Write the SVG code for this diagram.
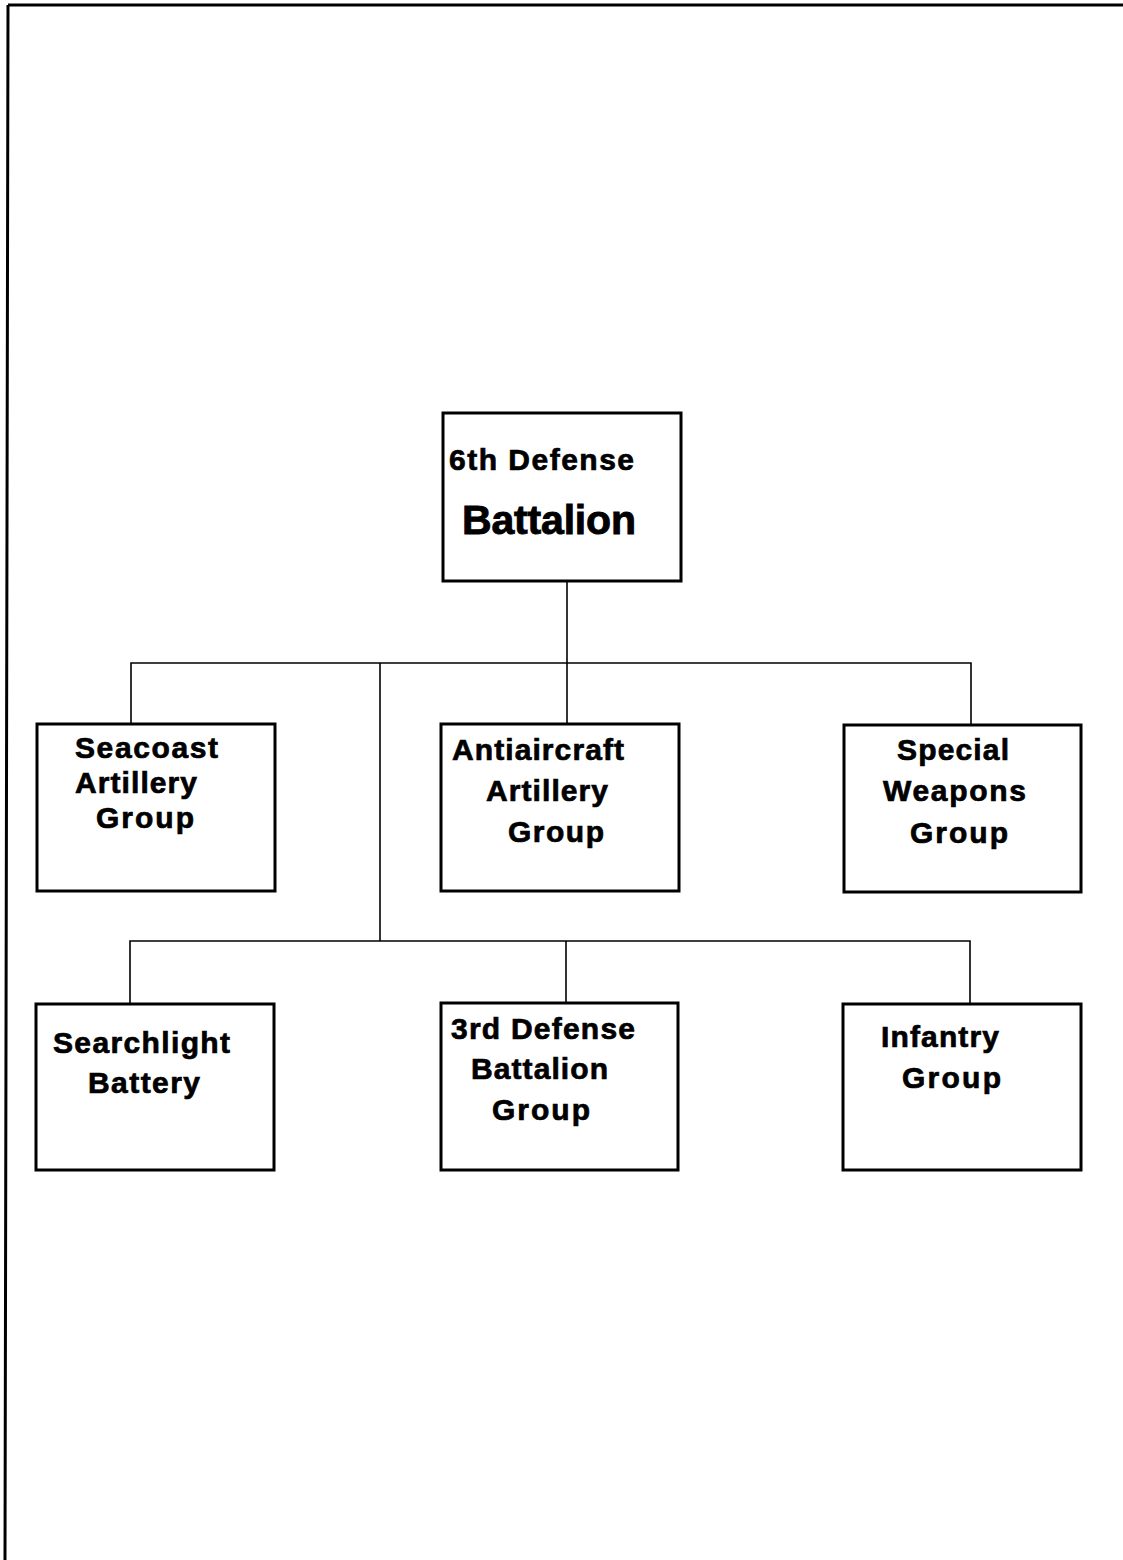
<svg xmlns="http://www.w3.org/2000/svg" width="1123" height="1560" viewBox="0 0 1123 1560">
  <style>
    .page { stroke: #000; stroke-width: 3; fill: none; }
    .box { fill: #fff; stroke: #000; stroke-width: 3; }
    .wire { stroke: #000; stroke-width: 1.6; fill: none; }
    .lbl { font-family: "Liberation Sans", Arial, Helvetica, sans-serif; font-weight: bold; font-size: 30px; fill: #000; stroke: #000; stroke-width: 0.7; }
    .big { font-size: 41px; stroke-width: 0.9; }
  </style>
  <rect width="1123" height="1560" fill="#fff"/>
  <!-- page frame: top and left edges only -->
  <path class="page" d="M8 5 H1123 M8 5 L5 1560"/>

  <g id="connectors">
    <path class="wire" d="M567 581 V663"/>
    <path class="wire" d="M131 724 V663 H971 V726"/>
    <path class="wire" d="M567 663 V724"/>
    <path class="wire" d="M380 663 V941"/>
    <path class="wire" d="M130 1004 V941 H970 V1004"/>
    <path class="wire" d="M566 941 V1003"/>
  </g>

  <g id="battalion6">
    <rect class="box" x="443" y="413" width="238" height="168"/>
    <text class="lbl" x="449" y="470" textLength="185" lengthAdjust="spacing">6th Defense</text>
    <text class="lbl big" x="462" y="534" textLength="174" lengthAdjust="spacing">Battalion</text>
  </g>

  <g id="seacoast">
    <rect class="box" x="37" y="724" width="238" height="167"/>
    <text class="lbl" x="75" y="758" textLength="143" lengthAdjust="spacing">Seacoast</text>
    <text class="lbl" x="75" y="793" textLength="122" lengthAdjust="spacing">Artillery</text>
    <text class="lbl" x="96" y="828" textLength="98" lengthAdjust="spacing">Group</text>
  </g>

  <g id="antiaircraft">
    <rect class="box" x="441" y="724" width="238" height="167"/>
    <text class="lbl" x="452" y="760" textLength="172" lengthAdjust="spacing">Antiaircraft</text>
    <text class="lbl" x="486" y="801" textLength="122" lengthAdjust="spacing">Artillery</text>
    <text class="lbl" x="508" y="842" textLength="96" lengthAdjust="spacing">Group</text>
  </g>

  <g id="special">
    <rect class="box" x="844" y="725" width="237" height="167"/>
    <text class="lbl" x="897" y="760" textLength="112" lengthAdjust="spacing">Special</text>
    <text class="lbl" x="883" y="801" textLength="143" lengthAdjust="spacing">Weapons</text>
    <text class="lbl" x="910" y="843" textLength="98" lengthAdjust="spacing">Group</text>
  </g>

  <g id="searchlight">
    <rect class="box" x="36" y="1004" width="238" height="166"/>
    <text class="lbl" x="53" y="1053" textLength="177" lengthAdjust="spacing">Searchlight</text>
    <text class="lbl" x="88" y="1093" textLength="112" lengthAdjust="spacing">Battery</text>
  </g>

  <g id="battalion3">
    <rect class="box" x="441" y="1003" width="237" height="167"/>
    <text class="lbl" x="451" y="1039" textLength="184" lengthAdjust="spacing">3rd Defense</text>
    <text class="lbl" x="471" y="1079" textLength="137" lengthAdjust="spacing">Battalion</text>
    <text class="lbl" x="492" y="1120" textLength="98" lengthAdjust="spacing">Group</text>
  </g>

  <g id="infantry">
    <rect class="box" x="843" y="1004" width="238" height="166"/>
    <text class="lbl" x="881" y="1047" textLength="118" lengthAdjust="spacing">Infantry</text>
    <text class="lbl" x="902" y="1088" textLength="99" lengthAdjust="spacing">Group</text>
  </g>
</svg>
